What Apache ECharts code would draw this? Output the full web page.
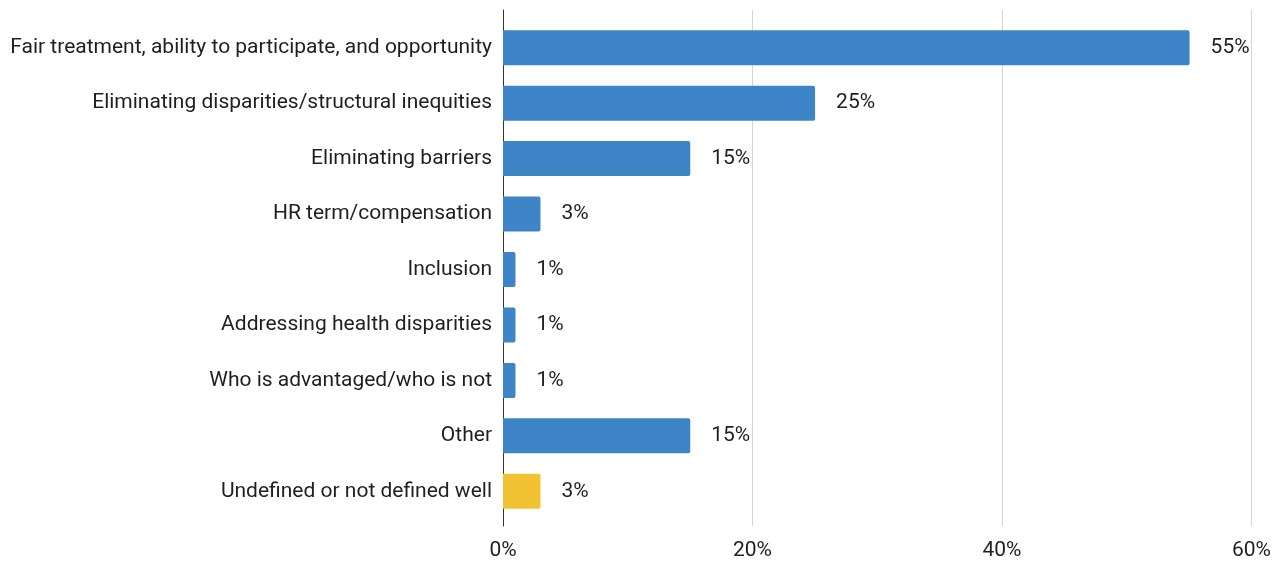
<!DOCTYPE html>
<html>
<head>
<meta charset="utf-8">
<script src="https://cdn.jsdelivr.net/npm/echarts@6/dist/echarts.min.js"></script>
<style>
  html, body { margin: 0; padding: 0; background: #fff; }
  #chart { width: 1274px; height: 561px; }
</style>
</head>
<body>
<div id="chart"></div>
<script>
// Survey responses: how the term is defined
const categories = [
  'Fair treatment, ability to participate, and opportunity',
  'Eliminating disparities/structural inequities',
  'Eliminating barriers',
  'HR term/compensation',
  'Inclusion',
  'Addressing health disparities',
  'Who is advantaged/who is not',
  'Other',
  'Undefined or not defined well'
];
const shares = [55, 25, 15, 3, 1, 1, 1, 15, 3];
const undefinedCategory = 'Undefined or not defined well';
const xTicks = [0, 20, 40, 60];

const BLUE = '#3d85c6';
const YELLOW = '#f1c232';
const TEXT = '#1f1f1f';
const FONT = 'Roboto';

const chart = echarts.init(document.getElementById('chart'), null, { renderer: 'canvas' });

chart.setOption({
  animation: false,
  backgroundColor: '#ffffff',
  grid: [
    // bars
    { left: 503, right: 22, top: 20, bottom: 42, containLabel: false },
    // gridlines, baseline and percent ticks
    { left: 503, right: 22, top: 10, bottom: 34, containLabel: false }
  ],
  xAxis: [
    {
      gridIndex: 0, type: 'value', min: 0, max: 60, interval: 20,
      axisLine: { show: false }, axisTick: { show: false },
      axisLabel: { show: false }, splitLine: { show: false }
    },
    {
      gridIndex: 1, type: 'value', min: xTicks[0], max: xTicks[xTicks.length - 1], interval: 20,
      axisLine: { show: false }, axisTick: { show: false },
      axisLabel: {
        color: TEXT, fontFamily: FONT, fontSize: 21, margin: 14,
        formatter: v => v + '%'
      },
      splitLine: { show: true, lineStyle: { color: '#d4d4d4', width: 1 } }
    }
  ],
  yAxis: [
    {
      gridIndex: 0, type: 'category', data: categories, inverse: true,
      axisLine: { show: false }, axisTick: { show: false },
      axisLabel: { color: TEXT, fontFamily: FONT, fontSize: 21, margin: 11 }
    },
    {
      gridIndex: 1, type: 'category', data: categories, inverse: true,
      axisLine: { show: true, lineStyle: { color: '#333333', width: 1 } },
      axisTick: { show: false }, axisLabel: { show: false }
    }
  ],
  series: [
    {
      type: 'bar',
      xAxisIndex: 0, yAxisIndex: 0,
      barWidth: 35,
      data: shares.map((v, i) => ({
        value: v,
        itemStyle: {
          color: categories[i] === undefinedCategory ? YELLOW : BLUE,
          borderRadius: [0, 2, 2, 0]
        }
      })),
      label: {
        show: true, position: 'right', distance: 21,
        color: TEXT, fontFamily: FONT, fontSize: 21,
        formatter: p => p.value + '%'
      }
    }
  ]
});
</script>
</body>
</html>
